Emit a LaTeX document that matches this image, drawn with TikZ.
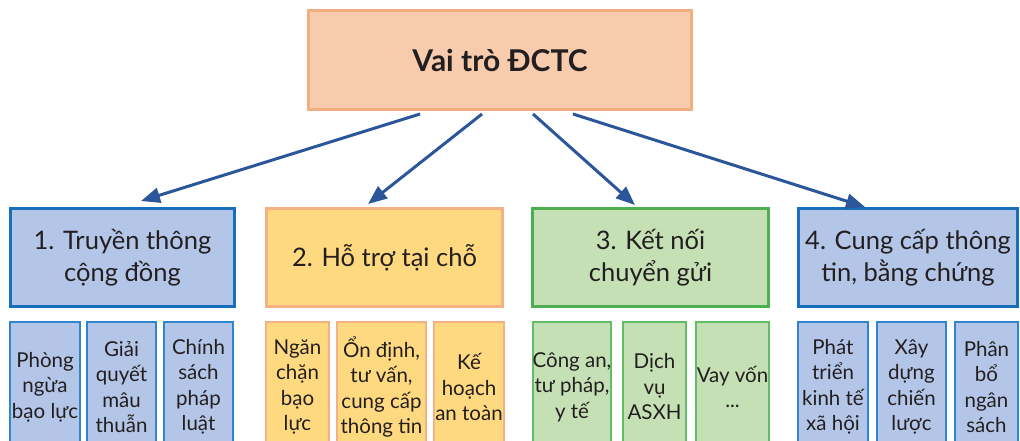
\documentclass[tikz,border=0pt]{standalone}
\usepackage{fontspec}
\setmainfont{Lato}
\usetikzlibrary{arrows.meta}
\definecolor{topfill}{HTML}{F8CBAD}
\definecolor{topdraw}{HTML}{F4AE7E}
\definecolor{bluefill}{HTML}{B4C6E7}
\definecolor{bluedraw}{HTML}{1A6FBD}
\definecolor{bluesub}{HTML}{2F86CF}
\definecolor{yelfill}{HTML}{FFD980}
\definecolor{yeldraw}{HTML}{F4B183}
\definecolor{grnfill}{HTML}{C5E0B4}
\definecolor{grndraw}{HTML}{4CAF50}
\definecolor{grnsub}{HTML}{62BD66}
\definecolor{arrcol}{HTML}{2B579A}
\definecolor{txt}{HTML}{231F20}
\tikzset{
  base/.style={rectangle, inner sep=0pt, align=center, text=txt},
  topbox/.style={base, fill=topfill, draw=topdraw, line width=3pt, font=\bfseries\fontsize{30}{36}\selectfont},
  lvl/.style={base, line width=3pt, font=\fontsize{25.5}{32}\selectfont},
  sub/.style={base, line width=2pt, font=\fontsize{20.5}{25.5}\selectfont},
  bl/.style={fill=bluefill, draw=bluedraw},
  yl/.style={fill=yelfill, draw=yeldraw},
  gl/.style={fill=grnfill, draw=grndraw},
  bs/.style={fill=bluefill, draw=bluesub},
  ys/.style={fill=yelfill, draw=yeldraw},
  gs/.style={fill=grnfill, draw=grnsub},
  arr/.style={draw=arrcol, line width=3pt, -{Triangle[length=19pt,width=15pt]}}
}
\begin{document}
\begin{tikzpicture}[x=1pt,y=-1pt]
\useasboundingbox (0,0) rectangle (1020,441);
\clip (0,0) rectangle (1020,441);
\node[topbox, minimum width=383pt, minimum height=99pt] (top) at (500,60) {Vai trò ĐCTC};

\node[lvl,bl, minimum width=224pt, minimum height=98pt] (b1) at (122.5,257.5) {1. Truyền thông\\cộng đồng};
\node[lvl,yl, minimum width=236pt, minimum height=98pt] (b2) at (384.5,257.5) {2. Hỗ trợ tại chỗ};
\node[lvl,gl, minimum width=236pt, minimum height=98pt] (b3) at (650.5,257.5) {3. Kết nối\\chuyển gửi};
\node[lvl,bl, minimum width=219pt, minimum height=98pt] (b4) at (908,257.5) {4. Cung cấp thông\\tin, bằng chứng};

\node[sub,bs, minimum width=70pt, minimum height=130pt] (s11) at (45,387) {Phòng\\ngừa\\bạo lực};
\node[sub,bs, minimum width=69pt, minimum height=130pt] (s12) at (121.5,387) {Giải\\quyết\\mâu\\thuẫn};
\node[sub,bs, minimum width=69pt, minimum height=130pt] (s13) at (198.5,387) {Chính\\sách\\pháp\\luật};

\node[sub,ys, minimum width=63pt, minimum height=130pt] (s21) at (297.5,387) {Ngăn\\chặn\\bạo\\lực};
\node[sub,ys, minimum width=89pt, minimum height=130pt] (s22) at (381.5,387) {Ổn định,\\tư vấn,\\cung cấp\\thông tin};
\node[sub,ys, minimum width=70pt, minimum height=130pt] (s23) at (469,387) {Kế\\hoạch\\an toàn};

\node[sub,gs, minimum width=78pt, minimum height=130pt] (s31) at (572,387) {Công an,\\tư pháp,\\y tế};
\node[sub,gs, minimum width=63pt, minimum height=130pt] (s32) at (654.5,387) {Dịch\\vụ\\ASXH};
\node[sub,gs, minimum width=73pt, minimum height=130pt] (s33) at (732.5,387) {Vay vốn\\...};

\node[sub,bs, minimum width=70pt, minimum height=130pt] (s41) at (833,387) {Phát\\triển\\kinh tế\\xã hội};
\node[sub,bs, minimum width=69pt, minimum height=130pt] (s42) at (911.5,387) {Xây\\dựng\\chiến\\lược};
\node[sub,bs, minimum width=63pt, minimum height=130pt] (s43) at (986.5,387) {Phân\\bổ\\ngân\\sách};

\coordinate (a1) at (420,114);
\coordinate (a2) at (482,114);
\coordinate (a3) at (533,114);
\coordinate (a4) at (573,114);
\coordinate (t1) at (141,201);
\coordinate (t2) at (368,204);
\coordinate (t3) at (635,205);
\coordinate (t4) at (865,207);
\draw[arr] (a1) -- (t1);
\draw[arr] (a2) -- (t2);
\draw[arr] (a3) -- (t3);
\draw[arr] (a4) -- (t4);
\end{tikzpicture}
\end{document}
